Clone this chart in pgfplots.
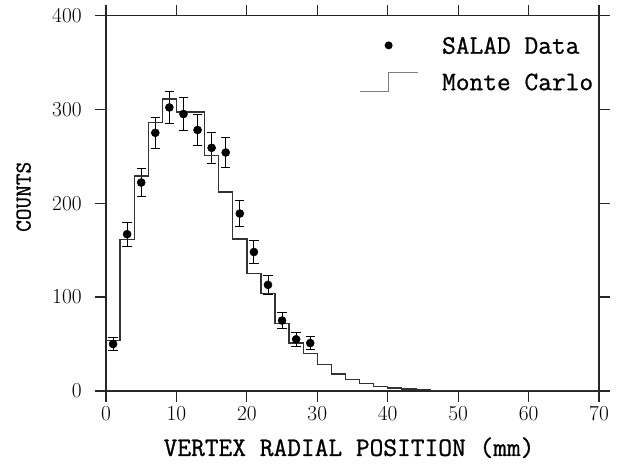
\documentclass[border=0pt]{standalone}
\usepackage{fontspec}
\setmonofont{Latin Modern Mono}[FakeBold=0.9]
\usepackage{pgfplots}
\pgfplotsset{compat=1.18}
\pgfplotstableread{
x y e
1 50 7.1
3 167 12.9
5 222 14.9
7 275 16.6
9 302 17.4
11 295 17.2
13 278 16.7
15 259 16.1
17 254 15.9
19 189 13.7
21 148 12.2
23 113 10.6
25 75 8.7
27 55 7.4
29 51 7.1
}\datatable
\pgfplotstableread{
x y
0 54
2 161
4 229
6 286
8 311
10 297
12 297
14 251
16 212
18 162
20 125
22 104
24 72
26 51
28 40
30 28
32 18
34 12
36 8
38 5
40 3
42 2
44 1.5
46 0.5
48 0.5
50 0.8
52 0.5
54 0.8
56 0.3
58 0.2
60 0.2
62 0.2
64 0.2
66 0.2
68 0.2
70 0.2
}\mctable
\begin{document}
\begin{tikzpicture}
\begin{axis}[
  scale only axis, width=369.75pt, height=281.6pt,
  xmin=0, xmax=70, ymin=0, ymax=400,
  xtick={0,10,...,70}, ytick={0,100,...,400},
  minor tick num=0,
  tick align=outside, major tick length=8pt,
  axis line style={line width=1pt, black!85},
  every tick/.style={line width=0.9pt, black!85},
  /pgf/number format/assume math mode=true,
  tick label style={font=\fontsize{16}{18}\selectfont\rmfamily\addfontfeatures{LetterSpace=15}},
  yticklabel style={xshift=-6.75pt},
  xlabel={VERTEX RADIAL POSITION (mm)},
  ylabel={COUNTS},
  xlabel style={font=\fontsize{20}{22}\selectfont\ttfamily, at={(axis description cs:0.493,-0.173)}, anchor=base},
  ylabel style={font=\fontsize{17}{19}\selectfont\ttfamily, at={(axis description cs:-0.167,0.517)}, anchor=center},
  legend style={draw=none, fill=none, inner sep=0pt, at={(axis description cs:0.513,0.945)}, anchor=north west,
    font=\fontsize{20}{22}\selectfont\ttfamily, nodes={inner sep=0pt}, row sep=12.5pt, column sep=18pt},
  legend cell align=left,
]
\addlegendimage{legend image code/.code={
  \path[draw=none, fill=none] (0pt,-6.75pt) rectangle (43.5pt,7.5pt);
  \fill[black, draw=none] (21.75pt,0.75pt) circle (3pt);}}
\addlegendentry{SALAD Data}
\addlegendimage{legend image code/.code={
  \draw[gray, line width=0.7pt] (0pt,-6.75pt) -- (21.75pt,-6.75pt) -- (21.75pt,7.5pt) -- (43.5pt,7.5pt);}}
\addlegendentry{Monte Carlo}
\addplot[only marks, mark=*, mark size=3pt, black, forget plot,
  error bars/.cd, y dir=both, y explicit,
  error bar style={line width=0.6pt, black},
  error mark options={rotate=90, mark size=3.5pt, line width=0.6pt, black}]
  table[x=x, y=y, y error=e]{\datatable};
\addplot[const plot, black!80, line width=1pt, forget plot] table[x=x, y=y]{\mctable};
\end{axis}
\pgfresetboundingbox
\path[use as bounding box] (-79.5pt,-57.75pt) rectangle (389.25pt,293.2pt);
\end{tikzpicture}
\end{document}
